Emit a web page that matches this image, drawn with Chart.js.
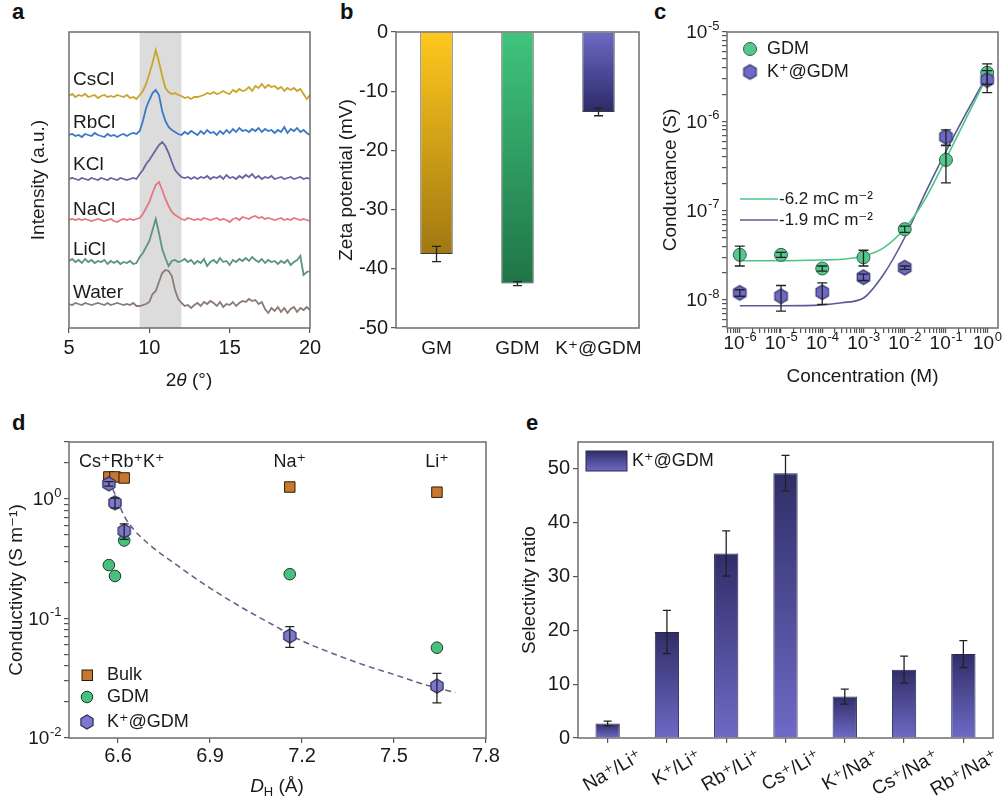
<!DOCTYPE html>
<html>
<head>
<meta charset="utf-8">
<script src="https://cdn.jsdelivr.net/npm/chart.js@4.4.1/dist/chart.umd.min.js"></script>
<style>
  html, body { margin: 0; padding: 0; background: #fff; }
  body { position: relative; width: 1006px; height: 800px; overflow: hidden; font-family: "Liberation Sans", Arial, sans-serif; }
  canvas { position: absolute; }
  .tag { position: absolute; font-weight: bold; font-size: 22px; line-height: 22px; color: #111; }
</style>
</head>
<body>
<div class="tag" style="left:12px;top:1px">a</div>
<div class="tag" style="left:340px;top:1px">b</div>
<div class="tag" style="left:654px;top:1px">c</div>
<div class="tag" style="left:12px;top:412px">d</div>
<div class="tag" style="left:526px;top:412px">e</div>
<canvas id="pa" width="330" height="395" style="left:0;top:0"></canvas>
<canvas id="pb" width="315" height="395" style="left:330px;top:0"></canvas>
<canvas id="pc" width="361" height="395" style="left:645px;top:0"></canvas>
<canvas id="pd" width="500" height="405" style="left:0;top:395px"></canvas>
<canvas id="pe" width="506" height="405" style="left:500px;top:395px"></canvas>
<script>
// ---------- data ----------
// a: XRD patterns, 2theta grid and intensities (a.u., relative to each trace's baseline)
const twoTheta = [5,5.2,5.4,5.6,5.8, 6,6.2,6.4,6.6,6.8, 7,7.2,7.4,7.6,7.8, 8,8.2,8.4,8.6,8.8,
  9,9.2,9.4,9.6,9.8, 10,10.2,10.4,10.6,10.8, 11,11.2,11.4,11.6,11.8, 12,12.2,12.4,12.6,12.8,
  13,13.2,13.4,13.6,13.8, 14,14.2,14.4,14.6,14.8, 15,15.2,15.4,15.6,15.8, 16,16.2,16.4,16.6,16.8,
  17,17.2,17.4,17.6,17.8, 18,18.2,18.4,18.6,18.8, 19,19.2,19.4,19.6,19.8, 20];
const xrdCsCl = [0,2,-1,1,0, 2,-1,0,1,-2, 0,1,-1,0,-1, 1,0,-1,1,-2, -1,-3,1,5,12, 22,33,46,34,20,
  8,4,2,3,1, 0,-2,-1,-3,-1, -1,0,1,3,2, 4,2,3,5,3, 2,6,4,7,5, 6,9,5,10,8, 12,8,11,9,10, 7,9,5,8,6, 8,5,7,2,-3, 1];
const xrdRbCl = [0,1,-1,0,-2, 1,0,-1,2,0, -1,-2,1,-1,0, -2,0,1,-1,1, 2,1,4,14,27, 35,42,45,40,24,
  14,8,5,3,1, 0,3,1,4,2, 0,4,1,5,2, 3,0,4,1,5, 2,6,3,7,4, 5,3,6,4,7, 3,6,4,5,2, 5,3,8,2,6, 4,7,3,5,2, 0];
const xrdKCl = [0,1,0,-1,1, 0,-1,1,0,-1, 1,0,-1,1,0, -1,1,0,-1,0, 1,0,5,9,15, 19,24,29,34,37,
  33,26,17,9,5, 2,1,2,0,2, 0,2,1,3,0, 2,1,3,0,4, 1,2,0,3,1, 4,2,5,1,3, 0,2,1,3,0, 1,2,0,1,2, 0,1,2,0,1, 0];
const xrdNaCl = [0,1,0,1,0, 1,0,-1,0,1, 0,-1,0,1,-1, -2,0,1,0,1, 0,1,2,6,12, 18,27,35,38,30,
  21,14,8,5,3, 1,0,2,1,0, 1,0,2,1,0, 1,2,0,1,0, -2,1,2,0,3, 2,1,3,4,2, 3,1,2,1,0, 1,2,0,1,0, 2,1,0,1,0, -1];
const xrdLiCl = [2,4,1,3,0, 4,1,3,0,2, 1,3,-1,2,0, 2,-1,1,0,2, -1,0,6,10,16, 22,33,44,30,14,
  5,-3,2,3,1, 2,4,1,3,-1, 2,0,4,-3,1, 3,0,5,1,2, -2,3,1,4,2, 5,2,6,3,1, 4,0,3,1,2, -1,2,0,3,-2, 1,3,7,-12,-9, -8];
const xrdWater = [0,-1,1,0,-1, 1,0,-1,0,1, 0,-1,1,-1,0, 1,0,-1,0,-1, 1,-2,-2,-1,0, 2,10,13,22,31,
  34,33,28,14,5, 1,-2,-1,-4,-1, 1,-2,2,0,3, 1,-2,2,-3,0, -1,2,-2,1,3, 2,5,3,4,0, 2,-5,-9,-4,-7, -3,-8,-4,-9,-5, -3,-8,-4,-6,-3, -6];
const xrdNames = ['CsCl', 'RbCl', 'KCl', 'NaCl', 'LiCl', 'Water'];
const xrdSeries = [xrdCsCl, xrdRbCl, xrdKCl, xrdNaCl, xrdLiCl, xrdWater];
const xrdOffsets = [232, 193, 149, 108, 65, 24];
const xrdShade = [9.4, 12.0];
const aTicks = [5, 10, 15, 20];

// b: zeta potential
const zetaCats = ['GM', 'GDM', 'K\u207A@GDM'];
const zetaVals = [-37.5, -42.5, -13.5];
const zetaErr = [1.3, 0.35, 0.65];
const zetaTicks = [0, -10, -20, -30, -40, -50];

// c: conductance vs concentration
const concX = [1e-6, 1e-5, 1e-4, 1e-3, 1e-2, 1e-1, 1];
const gGdm = [3.2e-8, 3.2e-8, 2.25e-8, 3.0e-8, 6.2e-8, 3.7e-7, 3.5e-6];
const gGdmErr = [0.8e-8, 0.2e-8, 0.15e-8, 0.6e-8, 0.5e-8, 1.65e-7, 0.9e-6];
const gK = [1.2e-8, 1.1e-8, 1.22e-8, 1.8e-8, 2.3e-8, 6.7e-7, 2.9e-6];
const gKErr = [0.1e-8, 0.35e-8, 0.33e-8, 0.15e-8, 0.1e-8, 1.3e-7, 0.8e-6];
const fitX = [1e-6, 1e-5, 1e-4, 3e-4, 1e-3, 3e-3, 1e-2, 3e-2, 1e-1, 3e-1, 1];
const fitGdm = [2.75e-8, 2.75e-8, 2.8e-8, 2.85e-8, 3.1e-8, 3.8e-8, 6.3e-8, 1.3e-7, 3.8e-7, 1.05e-6, 3.2e-6];
const fitK = [8.6e-9, 8.6e-9, 8.8e-9, 9.3e-9, 1.05e-8, 1.9e-8, 5.0e-8, 1.5e-7, 4.6e-7, 1.2e-6, 3.3e-6];
const fitLabels = ['-6.2 mC m\u207B\u00B2', '-1.9 mC m\u207B\u00B2'];

// d: conductivity vs hydrated diameter
const dH = [6.57, 6.59, 6.62, 7.16, 7.64];
const sBulk = [1.53, 1.53, 1.50, 1.26, 1.14];
const sGdm = [0.28, 0.227, 0.45, 0.235, 0.057];
const sK = [1.34, 0.93, 0.54, 0.0714, 0.0272];
const sKErr = [0.06, 0.09, 0.08, 0.014, 0.0075];
const dFitX = [6.57, 6.6, 6.62, 6.65, 6.7, 6.8, 6.9, 7.0, 7.1, 7.2, 7.3, 7.4, 7.5, 7.6, 7.7];
const dFitY = [1.45, 0.95, 0.72, 0.56, 0.42, 0.27, 0.18, 0.125, 0.09, 0.065, 0.051, 0.041, 0.034, 0.028, 0.024];
const dXTicks = [6.6, 6.9, 7.2, 7.5, 7.8];
const ionLabels = ['Cs\u207ARb\u207AK\u207A', 'Na\u207A', 'Li\u207A'];

// e: selectivity ratios
const eCats = ['Na\u207A/Li\u207A', 'K\u207A/Li\u207A', 'Rb\u207A/Li\u207A', 'Cs\u207A/Li\u207A', 'K\u207A/Na\u207A', 'Cs\u207A/Na\u207A', 'Rb\u207A/Na\u207A'];
const eVals = [2.7, 19.7, 34.3, 49.2, 7.7, 12.7, 15.6];
const eErr = [0.45, 4.0, 4.2, 3.3, 1.4, 2.5, 2.5];
const eTicks = [0, 10, 20, 30, 40, 50];

// ---------- shared helpers ----------
const FONT = '"Liberation Sans", Arial, "DejaVu Sans", sans-serif';
const INK = '#1a1a1a';
Chart.defaults.font.family = FONT;
Chart.defaults.font.size = 19;
Chart.defaults.color = INK;
Chart.defaults.animation = false;
Chart.defaults.plugins.legend.display = false;
Chart.defaults.plugins.tooltip.enabled = false;

function logTicks(min, max) {
  const out = [];
  for (let e = Math.floor(Math.log10(min)); e <= Math.ceil(Math.log10(max)); e++) {
    for (let k = 1; k <= 9; k++) {
      const v = k * Math.pow(10, e);
      if (v >= min * 0.999 && v <= max * 1.001) out.push({ value: v });
    }
  }
  return out;
}
// "10" with a raised exponent, drawn at every decade tick of a log scale
function drawDecades(chart, id) {
  const s = chart.scales[id], ctx = chart.ctx, a = chart.chartArea;
  ctx.save();
  ctx.fillStyle = INK; ctx.textBaseline = 'middle'; ctx.textAlign = 'left';
  s.ticks.forEach(t => {
    const l = Math.log10(t.value), r = Math.round(l);
    if (Math.abs(l - r) > 1e-6) return;
    const p = s.getPixelForValue(t.value), ex = String(r);
    ctx.font = '19px ' + FONT; const wb = ctx.measureText('10').width;
    ctx.font = '13px ' + FONT; const we = ctx.measureText(ex).width;
    let x0, cy;
    if (s.isHorizontal()) { x0 = p - (wb + we) / 2; cy = a.bottom + 16; }
    else { x0 = a.left - 8 - wb - we; cy = p + 1; }
    ctx.font = '19px ' + FONT; ctx.fillText('10', x0, cy);
    ctx.font = '13px ' + FONT; ctx.fillText(ex, x0 + wb + 0.5, cy - 7);
  });
  ctx.restore();
}
function fixSize(size) {
  return s => {
    if (s.isHorizontal()) s.height = size; else s.width = size;
    s.paddingLeft = s.paddingRight = s.paddingTop = s.paddingBottom = 0;
  };
}
function setTicks(list) { return s => { s.ticks = list.map(v => ({ value: v })); }; }
const tickGrid = { drawOnChartArea: false, drawTicks: true, tickLength: 5, color: '#555', lineWidth: 1.2 };
const noGrid = { display: false, drawTicks: false };

function vGrad(ctx, y0, y1, c0, c1) {
  const g = ctx.createLinearGradient(0, y0, 0, y1);
  g.addColorStop(0, c0); g.addColorStop(1, c1);
  return g;
}
function hexMarker(r, fill, stroke) {
  const s = Math.ceil(2 * r + 4), c = document.createElement('canvas');
  c.width = s; c.height = s;
  const g = c.getContext('2d'), m = s / 2;
  g.beginPath();
  for (let k = 0; k < 6; k++) {
    const ang = -Math.PI / 2 + k * Math.PI / 3;
    g.lineTo(m + r * Math.cos(ang), m + r * Math.sin(ang));
  }
  g.closePath(); g.fillStyle = fill; g.fill();
  g.lineWidth = 1.2; g.strokeStyle = stroke; g.stroke();
  return c;
}
function text(ctx, s, x, y, size, align) {
  ctx.save();
  ctx.font = size + 'px ' + FONT; ctx.fillStyle = INK;
  ctx.textAlign = align || 'left'; ctx.textBaseline = 'middle';
  ctx.fillText(s, x, y);
  ctx.restore();
}
// centred text made of pieces (italic letters, subscripts)
function richText(ctx, parts, cx, cy, size) {
  ctx.save();
  ctx.fillStyle = INK; ctx.textBaseline = 'middle'; ctx.textAlign = 'left';
  const fonts = parts.map(p => (p.italic ? 'italic ' : '') + (p.size || size) + 'px ' + FONT);
  let w = 0;
  parts.forEach((p, i) => { ctx.font = fonts[i]; w += ctx.measureText(p.t).width; });
  let x = cx - w / 2;
  parts.forEach((p, i) => {
    ctx.font = fonts[i];
    ctx.fillText(p.t, x, cy + (p.dy || 0));
    x += ctx.measureText(p.t).width;
  });
  ctx.restore();
}

// box around every plot area
Chart.register({
  id: 'frame',
  afterDatasetsDraw(chart) {
    const a = chart.chartArea, ctx = chart.ctx;
    ctx.save();
    ctx.strokeStyle = '#6e6e6e'; ctx.lineWidth = 1.5;
    ctx.strokeRect(a.left, a.top, a.right - a.left, a.bottom - a.top);
    ctx.restore();
  }
});

// vertical error bars, value +/- err, through the chart's own y scale
Chart.register({
  id: 'errorBars',
  afterDatasetsDraw(chart, args, opts) {
    const ctx = chart.ctx;
    (opts.items || []).forEach(it => {
      const meta = chart.getDatasetMeta(it.dataset);
      const ys = chart.scales[meta.yAxisID];
      const data = chart.data.datasets[it.dataset].data;
      ctx.save();
      ctx.strokeStyle = '#222'; ctx.lineWidth = 1.3;
      meta.data.forEach((el, i) => {
        const d = data[i], e = it.err[i];
        if (!e) return;
        const v = typeof d === 'number' ? d : d.y;
        const y1 = ys.getPixelForValue(v + e), y2 = ys.getPixelForValue(v - e);
        const x = el.x, c = it.cap / 2;
        ctx.beginPath();
        ctx.moveTo(x, y1); ctx.lineTo(x, y2);
        ctx.moveTo(x - c, y1); ctx.lineTo(x + c, y1);
        ctx.moveTo(x - c, y2); ctx.lineTo(x + c, y2);
        ctx.stroke();
      });
      ctx.restore();
    });
  }
});

// ---------- a ----------
const xrdColors = ['#c9a52c', '#3a78c8', '#6a64a2', '#e3787f', '#5b9384', '#8c7b74'];
new Chart(document.getElementById('pa'), {
  type: 'scatter',
  data: {
    datasets: xrdSeries.map((vals, k) => ({
      label: xrdNames[k],
      data: twoTheta.map((x, i) => ({ x, y: xrdOffsets[k] + vals[i] })),
      showLine: true, pointRadius: 0, borderColor: xrdColors[k], borderWidth: 1.8
    }))
  },
  options: {
    responsive: false,
    layout: { padding: { top: 32, right: 20, left: 0, bottom: 0 } },
    scales: {
      x: {
        type: 'linear', min: 5, max: 20,
        afterBuildTicks: setTicks(aTicks), afterFit: fixSize(67),
        border: { display: false }, grid: tickGrid,
        ticks: { font: { size: 20 }, padding: 3, maxRotation: 0 }
      },
      y: {
        type: 'linear', min: 0, max: 296,
        afterFit: fixSize(69),
        border: { display: false }, grid: noGrid, ticks: { display: false },
        title: { display: true, text: 'Intensity (a.u.)', font: { size: 19 }, padding: { top: 27, bottom: 0 } }
      }
    }
  },
  plugins: [{
    id: 'xrdDeco',
    beforeDatasetsDraw(chart) {
      const x = chart.scales.x, a = chart.chartArea, ctx = chart.ctx;
      const x0 = x.getPixelForValue(xrdShade[0]), x1 = x.getPixelForValue(xrdShade[1]);
      ctx.save(); ctx.fillStyle = '#dcdcdc';
      ctx.fillRect(x0, a.top, x1 - x0, a.bottom - a.top);
      ctx.restore();
    },
    afterDraw(chart) {
      const ctx = chart.ctx;
      const ys = [80, 123, 165, 210, 250, 293];
      xrdNames.forEach((n, i) => text(ctx, n, 73, ys[i], 19));
      richText(ctx, [{ t: '2' }, { t: '\u03B8', italic: true }, { t: ' (\u00B0)' }], 189, 381, 19);
    }
  }]
});

// ---------- b ----------
const zetaTop = ['#ffc81e', '#40c47c', '#6c6ac4'];
const zetaBot = ['#a07812', '#1f7446', '#2c2a68'];
new Chart(document.getElementById('pb'), {
  type: 'bar',
  data: {
    labels: zetaCats,
    datasets: [{
      data: zetaVals,
      backgroundColor: c => {
        const ch = c.chart;
        if (!ch.chartArea) return zetaTop[c.dataIndex];
        return vGrad(ch.ctx, ch.chartArea.top, ch.scales.y.getPixelForValue(zetaVals[c.dataIndex]),
          zetaTop[c.dataIndex], zetaBot[c.dataIndex]);
      },
      borderColor: '#3a3a3a', borderWidth: 1,
      barPercentage: 0.4, categoryPercentage: 1
    }]
  },
  options: {
    responsive: false,
    layout: { padding: { top: 32, right: 6, left: 0, bottom: 0 } },
    plugins: { errorBars: { items: [{ dataset: 0, err: zetaErr, cap: 9 }] } },
    scales: {
      x: {
        afterFit: fixSize(67), border: { display: false }, grid: noGrid,
        ticks: { font: { size: 19 }, padding: 9, maxRotation: 0, autoSkip: false }
      },
      y: {
        min: -50, max: 0, afterBuildTicks: setTicks(zetaTicks), afterFit: fixSize(66),
        border: { display: false }, grid: tickGrid,
        ticks: { font: { size: 20 }, padding: 3 },
        title: { display: true, text: 'Zeta potential (mV)', font: { size: 19 }, padding: { top: 5, bottom: 0 } }
      }
    }
  }
});

// ---------- c ----------
const hexC = hexMarker(7.2, '#6e6ac4', '#34326e');
const cXMin = 4.9e-7, cXMax = 1.83, cYMin = 4.85e-9, cYMax = 1e-5;
new Chart(document.getElementById('pc'), {
  type: 'scatter',
  data: {
    datasets: [
      { label: 'K\u207A@GDM', data: concX.map((x, i) => ({ x, y: gK[i] })), pointStyle: hexC, pointRadius: 7, order: 0 },
      { label: 'GDM', data: concX.map((x, i) => ({ x, y: gGdm[i] })), pointStyle: 'circle', pointRadius: 6.5,
        backgroundColor: '#52c98a', borderColor: '#35604a', borderWidth: 1, order: 1 },
      { label: fitLabels[0], data: fitX.map((x, i) => ({ x, y: fitGdm[i] })), showLine: true, pointRadius: 0,
        borderColor: '#4ec48a', borderWidth: 1.6, cubicInterpolationMode: 'monotone', order: 2 },
      { label: fitLabels[1], data: fitX.map((x, i) => ({ x, y: fitK[i] })), showLine: true, pointRadius: 0,
        borderColor: '#5b5994', borderWidth: 1.6, cubicInterpolationMode: 'monotone', order: 3 }
    ]
  },
  options: {
    responsive: false,
    layout: { padding: { top: 32, right: 4, left: 0, bottom: 0 } },
    plugins: { errorBars: { items: [{ dataset: 1, err: gGdmErr, cap: 10 }, { dataset: 0, err: gKErr, cap: 10 }] } },
    scales: {
      x: {
        type: 'logarithmic', min: cXMin, max: cXMax,
        afterBuildTicks: s => { s.ticks = logTicks(cXMin, cXMax); }, afterFit: fixSize(67),
        border: { display: false }, grid: tickGrid,
        ticks: { display: false, autoSkip: false },
        title: { display: true, text: 'Concentration (M)', font: { size: 19 }, padding: { top: 0, bottom: 7 } }
      },
      y: {
        type: 'logarithmic', min: cYMin, max: cYMax,
        afterBuildTicks: s => { s.ticks = logTicks(cYMin, cYMax); }, afterFit: fixSize(82),
        border: { display: false }, grid: tickGrid,
        ticks: { display: false, autoSkip: false },
        title: { display: true, text: 'Conductance (S)', font: { size: 19 }, padding: { top: 14, bottom: 0 } }
      }
    }
  },
  plugins: [{
    id: 'cDeco',
    afterDraw(chart) {
      const ctx = chart.ctx;
      drawDecades(chart, 'x');
      drawDecades(chart, 'y');
      ctx.save();
      ctx.beginPath(); ctx.arc(105, 49, 6.5, 0, Math.PI * 2);
      ctx.fillStyle = '#52c98a'; ctx.fill(); ctx.strokeStyle = '#35604a'; ctx.lineWidth = 1; ctx.stroke();
      ctx.drawImage(hexC, 105 - hexC.width / 2, 72 - hexC.height / 2);
      ctx.lineWidth = 1.6;
      ctx.strokeStyle = '#4ec48a'; ctx.beginPath(); ctx.moveTo(95, 199); ctx.lineTo(133, 199); ctx.stroke();
      ctx.strokeStyle = '#5b5994'; ctx.beginPath(); ctx.moveTo(95, 220); ctx.lineTo(133, 220); ctx.stroke();
      ctx.restore();
      text(ctx, 'GDM', 122, 49, 18);
      text(ctx, 'K\u207A@GDM', 122, 72, 18);
      text(ctx, fitLabels[0], 134, 199, 17);
      text(ctx, fitLabels[1], 134, 220, 17);
    }
  }]
});

// ---------- d ----------
const hexD = hexMarker(7, '#7c78cc', '#2a2858');
new Chart(document.getElementById('pd'), {
  type: 'scatter',
  data: {
    datasets: [
      { label: 'K\u207A@GDM', data: dH.map((x, i) => ({ x, y: sK[i] })), pointStyle: hexD, pointRadius: 7, order: 0 },
      { label: 'GDM', data: dH.map((x, i) => ({ x, y: sGdm[i] })), pointStyle: 'circle', pointRadius: 5.8,
        backgroundColor: '#47c07e', borderColor: '#1f3b2a', borderWidth: 1, order: 1 },
      { label: 'Bulk', data: dH.map((x, i) => ({ x, y: sBulk[i] })), pointStyle: 'rect', pointRadius: 7.4,
        backgroundColor: '#c8782e', borderColor: '#2b1b0c', borderWidth: 1, order: 2 },
      { label: 'fit', data: dFitX.map((x, i) => ({ x, y: dFitY[i] })), showLine: true, pointRadius: 0,
        borderColor: '#6b5a86', borderWidth: 1.5, borderDash: [6, 4], cubicInterpolationMode: 'monotone', order: 3 }
    ]
  },
  options: {
    responsive: false,
    layout: { padding: { top: 47, right: 14, left: 0, bottom: 0 } },
    plugins: { errorBars: { items: [{ dataset: 0, err: sKErr, cap: 9 }] } },
    scales: {
      x: {
        type: 'linear', min: 6.44, max: 7.8,
        afterBuildTicks: setTicks(dXTicks), afterFit: fixSize(62),
        border: { display: false }, grid: tickGrid,
        ticks: { font: { size: 20 }, padding: 1, maxRotation: 0, callback: v => v.toFixed(1) }
      },
      y: {
        type: 'logarithmic', min: 0.01, max: 3.0,
        afterBuildTicks: s => { s.ticks = logTicks(0.01, 3.0); }, afterFit: fixSize(69),
        border: { display: false }, grid: tickGrid,
        ticks: { display: false, autoSkip: false },
        title: { display: true, text: 'Conductivity (S m\u207B\u00B9)', font: { size: 19 }, padding: { top: 5, bottom: 0 } }
      }
    }
  },
  plugins: [{
    id: 'dDeco',
    afterDraw(chart) {
      const ctx = chart.ctx, x = chart.scales.x;
      drawDecades(chart, 'y');
      ctx.save();
      ctx.fillStyle = '#c8782e'; ctx.strokeStyle = '#2b1b0c'; ctx.lineWidth = 1;
      ctx.fillRect(82, 275, 10.5, 10.5); ctx.strokeRect(82, 275, 10.5, 10.5);
      ctx.beginPath(); ctx.arc(87, 302, 5.8, 0, Math.PI * 2);
      ctx.fillStyle = '#47c07e'; ctx.fill(); ctx.strokeStyle = '#1f3b2a'; ctx.stroke();
      ctx.drawImage(hexD, 87 - hexD.width / 2, 327 - hexD.height / 2);
      ctx.restore();
      text(ctx, 'Bulk', 107, 280, 18);
      text(ctx, 'GDM', 107, 302, 18);
      text(ctx, 'K\u207A@GDM', 107, 327, 18);
      text(ctx, ionLabels[0], 79, 67, 18);
      text(ctx, ionLabels[1], x.getPixelForValue(dH[3]), 67, 18, 'center');
      text(ctx, ionLabels[2], x.getPixelForValue(dH[4]), 67, 18, 'center');
      richText(ctx, [{ t: 'D', italic: true }, { t: 'H', size: 13, dy: 5 }, { t: ' (\u00C5)' }], 277, 392, 19);
    }
  }]
});

// ---------- e ----------
const eTop = '#302e68', eBot = '#6e6ac6';
new Chart(document.getElementById('pe'), {
  type: 'bar',
  data: {
    labels: eCats,
    datasets: [{
      data: eVals,
      backgroundColor: c => {
        const ch = c.chart;
        if (!ch.chartArea) return eBot;
        return vGrad(ch.ctx, ch.scales.y.getPixelForValue(eVals[c.dataIndex]), ch.chartArea.bottom, eTop, eBot);
      },
      borderColor: '#2a2850', borderWidth: 1,
      barPercentage: 0.41, categoryPercentage: 1
    }]
  },
  options: {
    responsive: false,
    layout: { padding: { top: 47, right: 13, left: 0, bottom: 0 } },
    plugins: { errorBars: { items: [{ dataset: 0, err: eErr, cap: 8 }] } },
    scales: {
      x: {
        afterFit: fixSize(62), border: { display: false },
        grid: Object.assign({}, tickGrid, { offset: false }),
        ticks: { font: { size: 19 }, padding: 2, minRotation: 30, maxRotation: 30, labelOffset: 33, autoSkip: false }
      },
      y: {
        min: 0, max: 55, afterBuildTicks: setTicks(eTicks), afterFit: fixSize(78),
        border: { display: false }, grid: tickGrid,
        ticks: { font: { size: 20 }, padding: 3 },
        title: { display: true, text: 'Selectivity ratio', font: { size: 19 }, padding: { top: 18, bottom: 0 } }
      }
    }
  },
  plugins: [{
    id: 'eLegend',
    afterDraw(chart) {
      const ctx = chart.ctx;
      ctx.save();
      ctx.fillStyle = vGrad(ctx, 56, 76, eTop, eBot);
      ctx.fillRect(86, 56, 41, 20);
      ctx.strokeStyle = '#2a2850'; ctx.lineWidth = 1; ctx.strokeRect(86, 56, 41, 20);
      ctx.restore();
      text(ctx, 'K\u207A@GDM', 132, 66, 18);
    }
  }]
});
</script>
</body>
</html>
